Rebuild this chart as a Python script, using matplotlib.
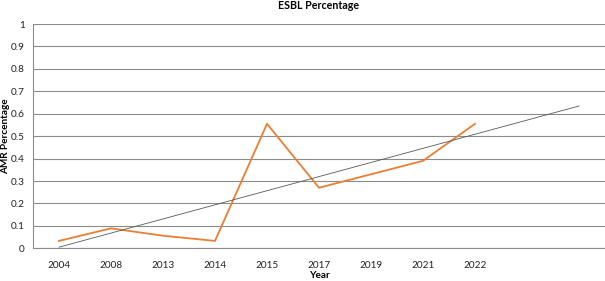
import matplotlib
matplotlib.use("Agg")
import matplotlib.pyplot as plt
import numpy as np

plt.rcParams["font.family"] = ["Lato", "DejaVu Sans"]

years = ["2004", "2008", "2013", "2014", "2015", "2017", "2019", "2021", "2022"]
esbl_pct = [0.033, 0.089, 0.056, 0.033, 0.555, 0.27, 0.33, 0.39, 0.555]
forecast_periods = 2

x = np.arange(len(years))
# linear trendline, extended forward like Excel's "forecast forward"
slope, intercept = np.polyfit(x + 1, esbl_pct, 1)
xt = np.arange(len(years) + forecast_periods)
yt = slope * (xt + 1) + intercept

fig = plt.figure(figsize=(6.05, 2.81), dpi=100)
ax = fig.add_axes([33 / 605, (281 - 248.3) / 281, 572 / 605, (248.3 - 24) / 281])

ax.set_ylim(0, 1)
ax.set_xlim(-0.5, len(xt) - 0.5)
ax.set_yticks(np.arange(0, 1.01, 0.1))
ax.set_yticklabels(["0"] + [f"{v:.1f}" for v in np.arange(0.1, 0.95, 0.1)] + ["1"])
ax.grid(axis="y", color="#8c8c8c", lw=0.8)
ax.set_axisbelow(True)

ax.plot(x, esbl_pct, color="#ED7D31", lw=1.3, zorder=3)
ax.plot(xt, yt, color="#595959", lw=0.6, zorder=4)

ax.set_xticks(x)
ax.set_xticklabels(years)
ax.tick_params(axis="both", length=0, labelsize=7.2, colors="#222222")
ax.tick_params(axis="x", pad=9)
ax.tick_params(axis="y", pad=6)

for side in ("top", "right"):
    ax.spines[side].set_visible(False)
for side in ("left", "bottom"):
    ax.spines[side].set_color("#8c8c8c")
    ax.spines[side].set_linewidth(0.8)

ax.set_title("ESBL Percentage", fontsize=7.7, fontweight="bold", pad=11)
ax.set_xlabel("Year", fontsize=7.2, fontweight="bold", va="center")
ax.xaxis.set_label_coords(0.5, -0.123)
ax.set_ylabel("AMR Percentage", fontsize=7.2, fontweight="bold", va="center")
ax.yaxis.set_label_coords(-0.048, 0.5)

fig.savefig("out.png", dpi=100)
